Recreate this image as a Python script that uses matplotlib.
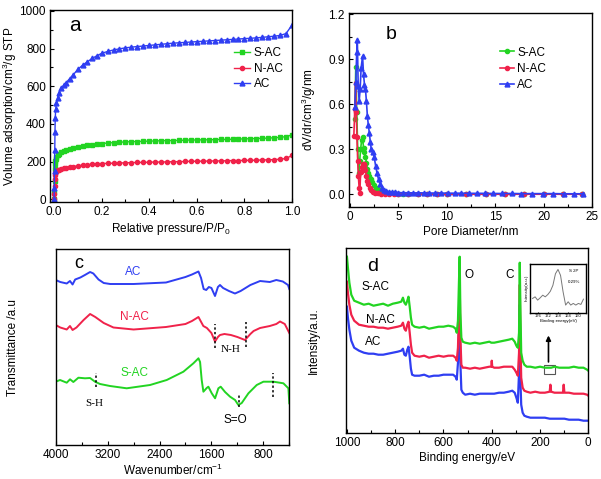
import matplotlib
matplotlib.use("Agg")
import matplotlib.pyplot as plt
from matplotlib.ticker import MultipleLocator

plt.rcParams['font.family'] = ['Liberation Sans', 'DejaVu Sans']
plt.rcParams['mathtext.default'] = 'regular'

GREEN = '#22d422'
RED = '#f0224a'
BLUE = '#2f3ef2'

# ---------------- panel a : isotherms ----------------
pressure = [0.0, 0.001, 0.002, 0.003, 0.004, 0.005, 0.007, 0.01, 0.015, 0.02, 0.03, 0.04, 0.05,
            0.065, 0.08, 0.1, 0.12, 0.14, 0.16, 0.18, 0.2, 0.225, 0.25, 0.275, 0.3, 0.325, 0.35,
            0.375, 0.4, 0.425, 0.45, 0.475, 0.5, 0.525, 0.55, 0.575, 0.6, 0.625, 0.65, 0.675, 0.7,
            0.725, 0.75, 0.775, 0.8, 0.825, 0.85, 0.875, 0.9, 0.925, 0.95, 0.975, 1.0]
ads_ac = [0, 60, 150, 260, 360, 430, 480, 510, 540, 565, 590, 605, 618,
          640, 660, 690, 712, 730, 748, 762, 775, 785, 793, 799, 804, 808, 811,
          814, 817, 820, 823, 826, 829, 831, 833, 835, 837, 839, 841, 843, 845,
          847, 849, 851, 853, 855, 857, 860, 863, 866, 870, 880, 925]
ads_sac = [0, 40, 100, 160, 190, 205, 215, 225, 235, 242, 250, 255, 260,
           265, 270, 277, 282, 287, 290, 293, 296, 299, 301, 303, 305, 306, 307,
           308, 309, 310, 311, 312, 312, 313, 314, 315, 315, 316, 316, 317, 318,
           318, 319, 320, 321, 322, 323, 324, 325, 327, 329, 333, 342]
ads_nac = [0, 30, 70, 110, 130, 140, 146, 150, 155, 158, 162, 165, 167,
           170, 174, 178, 181, 184, 186, 188, 190, 191, 192, 193, 194, 195, 196,
           196, 197, 198, 198, 199, 200, 200, 201, 202, 202, 203, 203, 204, 204,
           205, 206, 206, 207, 207, 208, 209, 210, 211, 213, 217, 233]

# ---------------- panel b : pore size distribution ----------------
ac_d = [0.5, 0.6, 0.7, 0.76, 0.85, 0.95, 1.05, 1.15, 1.3, 1.4, 1.5, 1.6, 1.7, 1.8, 1.9, 2.0,
        2.1, 2.2, 2.35, 2.5, 2.65, 2.8, 2.95, 3.1, 3.3, 3.5, 3.75, 4.0, 4.3, 4.6, 5.0, 5.5,
        6.0, 6.5, 7.0, 7.6, 8.2, 8.8, 9.4, 10.1, 10.8, 11.5, 12.3, 13.1, 13.9, 14.8, 15.7,
        16.7, 17.7, 18.8, 19.9, 21.0, 22.1, 23.1, 24.1]
ac_v = [0.58, 0.75, 0.95, 1.03, 0.72, 0.62, 0.7, 0.84, 0.92, 0.8, 0.73, 0.7, 0.62, 0.52, 0.46, 0.41,
        0.35, 0.30, 0.28, 0.25, 0.19, 0.14, 0.10, 0.07, 0.045, 0.03, 0.022, 0.018, 0.015, 0.013, 0.012, 0.011,
        0.011, 0.01, 0.01, 0.01, 0.009, 0.009, 0.009, 0.008, 0.008, 0.008, 0.007, 0.007, 0.007, 0.006, 0.006,
        0.006, 0.005, 0.005, 0.005, 0.005, 0.004, 0.004, 0.004]
sac_d = [0.5, 0.6, 0.7, 0.8, 0.9, 1.0, 1.1, 1.2, 1.3, 1.4, 1.5, 1.6, 1.7, 1.8, 1.9, 2.0, 2.15,
         2.3, 2.5, 2.7, 2.9, 3.1, 3.4, 3.7, 4.0, 4.5, 5.0, 5.5, 6.0, 7.0, 8.0, 9.0, 10.0, 12.0,
         14.0, 16.0, 18.0, 20.0, 22.0, 24.0]
sac_v = [0.5, 0.85, 0.55, 0.3, 0.14, 0.22, 0.3, 0.36, 0.38, 0.31, 0.28, 0.25, 0.21, 0.17, 0.14, 0.12, 0.1,
         0.08, 0.06, 0.045, 0.033, 0.024, 0.016, 0.011, 0.008, 0.006, 0.005, 0.004, 0.004, 0.003, 0.003, 0.003,
         0.002, 0.002, 0.002, 0.002, 0.002, 0.002, 0.002, 0.002]
nac_d = [0.4, 0.5, 0.58, 0.65, 0.72, 0.8, 0.87, 0.95, 1.02, 1.1, 1.2, 1.3, 1.4, 1.5, 1.6, 1.7,
         1.8, 1.9, 2.05, 2.2, 2.4, 2.6, 2.9, 3.2, 3.6, 4.0, 4.5, 5.0, 6.0, 7.0, 8.0, 9.0, 10.0,
         12.0, 14.0, 16.0, 18.0, 20.0, 22.0, 24.0]
nac_v = [0.39, 0.57, 0.74, 0.55, 0.38, 0.22, 0.12, 0.04, 0.01, 0.15, 0.18, 0.2, 0.2, 0.19, 0.16, 0.12,
         0.09, 0.07, 0.045, 0.03, 0.018, 0.012, 0.008, 0.005, 0.004, 0.003, 0.003, 0.002, 0.002, 0.002, 0.002,
         0.001, 0.001, 0.001, 0.001, 0.001, 0.001, 0.001, 0.001, 0.001]

# ---------------- panel c : FTIR ----------------
ac_wn = [4000, 4000, 3930, 3830, 3780, 3740, 3700, 3620, 3550, 3470, 3420, 3340, 3260, 3160, 2800,
         2300, 2000, 1900, 1800, 1760, 1720, 1680, 1640, 1600, 1545, 1500, 1468, 1420, 1330, 1237,
         1150, 1000, 850, 700, 600, 500, 420, 400]
ac_t = [0, 165, 163, 161.5, 164, 160.5, 165.5, 167.5, 170, 173, 171.5, 165.5, 162, 161, 161,
        162.5, 168, 170.5, 173.5, 167, 156, 155, 158, 157, 149, 158, 160, 157, 154, 151.5,
        154, 160, 164, 163, 165, 163.5, 160, 156]
nac_wn = [4000, 4000, 3930, 3830, 3780, 3740, 3680, 3570, 3470, 3390, 3260, 3110, 2800, 2300, 2000,
          1900, 1800, 1725, 1670, 1600, 1545, 1500, 1468, 1400, 1300, 1200, 1083, 1000, 950, 851,
          700, 600, 543, 470, 400]
nac_t = [0, 120, 117.5, 115.5, 119, 115, 117.5, 125, 131, 128, 122, 117.5, 115.5, 118, 121,
         124, 128, 119, 117, 112, 103.5, 108, 110, 111, 110, 108, 105, 111, 114, 117,
         119, 121, 123.5, 121, 112]
sac_wn = [4000, 4000, 3933, 3830, 3779, 3728, 3650, 3548, 3471, 3394, 3317, 3163, 2906, 2546, 2289,
          2032, 1878, 1800, 1775, 1750, 1724, 1673, 1647, 1595, 1544, 1493, 1457, 1390, 1313, 1236,
          1185, 1133, 1030, 902, 799, 645, 491, 414, 400]
sac_t = [0, 63.3, 65, 62.3, 65.7, 63, 67.3, 66.7, 67, 63.3, 61, 59, 56.7, 60, 65,
         73.3, 81.7, 86.7, 83, 65, 53.3, 57, 58.3, 51.7, 46.7, 56.7, 58.3, 53, 48.3, 45,
         40, 42, 51.7, 60, 63.3, 63.3, 61.7, 56.7, 41.7]

# ---------------- panel d : XPS survey ----------------
be = [1000, 996, 990, 982, 970, 950, 930, 910, 890, 870, 850, 830, 810, 790, 775, 768, 762, 756,
      750, 745, 740, 735, 730, 720, 700, 680, 660, 640, 620, 600, 580, 560, 550, 545, 540, 536,
      533, 530, 526, 520, 510, 490, 470, 450, 430, 410, 402, 400, 398, 390, 370, 350, 330, 315,
      305, 298, 292, 287, 284, 281, 278, 272, 265, 255, 240, 220, 200, 180, 160, 157, 154, 140,
      120, 105, 102, 99, 80, 60, 40, 20, 5, 0]
xps_sac = [176, 165, 150, 138, 132, 130, 128, 129, 127, 128, 129, 127, 129, 130, 131, 135, 130, 128,
           132, 136, 126, 115, 108, 106, 105, 106, 104, 105, 106, 106, 107, 106, 104, 100, 112, 150,
           176, 120, 95, 91, 90, 89, 90, 89, 90, 91, 90, 90, 90, 90, 91, 92, 93, 94,
           91, 87, 85, 100, 170, 120, 80, 72, 68, 66, 66, 65, 66, 65, 65, 65, 65, 66,
           65, 65, 65, 65, 65, 66, 65, 65, 63, 62]
xps_nac = [151, 140, 128, 118, 112, 108, 107, 106, 106, 105, 105, 104, 105, 106, 107, 110, 104, 102,
           108, 111, 100, 88, 80, 77, 76, 77, 75, 76, 77, 76, 77, 77, 75, 72, 85, 120,
           153, 95, 68, 65, 65, 64, 65, 64, 65, 66, 66, 72, 66, 65, 65, 66, 66, 66,
           63, 60, 57, 80, 148, 90, 55, 45, 42, 41, 40, 41, 40, 40, 41, 48, 41, 40,
           40, 40, 48, 40, 40, 39, 39, 39, 38, 37]
xps_ac = [126, 115, 103, 92, 85, 82, 80, 79, 79, 78, 78, 79, 80, 81, 82, 84, 78, 77,
          83, 86, 76, 64, 58, 57, 57, 58, 56, 57, 57, 58, 58, 58, 56, 53, 70, 100,
          122, 70, 43, 40, 38, 39, 38, 39, 39, 39, 39, 39, 39, 39, 40, 40, 41, 42,
          40, 35, 30, 60, 128, 50, 28, 20, 17, 16, 15, 15, 15, 15, 14, 14, 14, 14,
          14, 14, 14, 14, 13, 13, 13, 12, 12, 12]

# inset S2p spectrum
s2p_be = [178, 177, 176, 175, 174, 173, 172, 171, 170, 169, 168, 167, 166, 165, 164, 163, 162,
          161, 160, 159, 158]
s2p_int = [44, 49, 39, 46, 54, 49, 56, 66, 84, 119, 132, 114, 64, 24, 34, 24, 29, 24, 29, 26, 42]

labels = ['S-AC', 'N-AC', 'AC']

W, H = 601, 479
fig = plt.figure(figsize=(W / 100, H / 100), dpi=100)


def ax_px(l, r, t, b):
    return fig.add_axes([l / W, 1 - b / H, (r - l) / W, (b - t) / H])


FS = 8.5


def style(ax):
    ax.tick_params(which='both', direction='in', labelsize=FS, pad=3)
    ax.tick_params(which='major', length=3, width=0.8)
    ax.tick_params(which='minor', length=2, width=0.8)
    for s in ax.spines.values():
        s.set_linewidth(1.0)


def ylabel_at(ax, text, x_px, l, r):
    ax.set_ylabel(text, fontsize=FS)
    ax.yaxis.set_label_coords((x_px - l) / (r - l), 0.5)


# ---- a ----
axa = ax_px(50, 292, 10, 202)
axa.plot(pressure, ads_sac, '-s', color=GREEN, lw=1, ms=3, label=labels[0])
axa.plot(pressure, ads_nac, '-o', color=RED, lw=1, ms=3, label=labels[1])
axa.plot(pressure, ads_ac, '-^', color=BLUE, lw=1, ms=3.5, label=labels[2])
axa.set_xlim(-0.017, 1.0)
axa.set_ylim(-14, 1005)
axa.xaxis.set_minor_locator(MultipleLocator(0.1))
axa.yaxis.set_major_locator(MultipleLocator(200))
axa.yaxis.set_minor_locator(MultipleLocator(100))
axa.set_xticks([0, 0.2, 0.4, 0.6, 0.8, 1.0], ['0.0', '0.2', '0.4', '0.6', '0.8', '1.0'])
style(axa)
axa.set_xlabel('Relative pressure/P/P$_0$', fontsize=FS, labelpad=2)
ylabel_at(axa, 'Volume adsorption/cm$^3$/g STP', 19, 50, 292)
axa.text(0.08, 0.92, 'a', transform=axa.transAxes, fontsize=15, va='center', ha='left')
axa.legend(loc='upper left', bbox_to_anchor=(0.74, 0.83), frameon=False, fontsize=FS,
           handlelength=1.4, handletextpad=0.3, labelspacing=0.3, borderaxespad=0)

# ---- b ----
axb = ax_px(349, 592, 12.7, 207.3)
axb.plot(sac_d, sac_v, '-o', color=GREEN, lw=1.2, ms=3, label=labels[0])
axb.plot(nac_d, nac_v, '-o', color=RED, lw=1.2, ms=3, label=labels[1])
axb.plot(ac_d, ac_v, '-^', color=BLUE, lw=1.2, ms=3.5, label=labels[2])
axb.set_xlim(-0.1, 25)
axb.set_ylim(-0.086, 1.21)
axb.xaxis.set_major_locator(MultipleLocator(5))
axb.xaxis.set_minor_locator(MultipleLocator(2.5))
axb.yaxis.set_minor_locator(MultipleLocator(0.15))
axb.set_yticks([0, 0.3, 0.6, 0.9, 1.2], ['0.0', '0.3', '0.6', '0.9', '1.2'])
style(axb)
axb.set_xlabel('Pore Diameter/nm', fontsize=FS, labelpad=2)
ylabel_at(axb, 'dV/dr/cm$^3$/g/nm', 318, 349, 592)
axb.text(0.15, 0.89, 'b', transform=axb.transAxes, fontsize=14, va='center', ha='left')
axb.legend(loc='upper left', bbox_to_anchor=(0.6, 0.85), frameon=False, fontsize=FS,
           handlelength=1.2, handletextpad=0.3, labelspacing=0.35, borderaxespad=0)

# ---- c ----
axc = ax_px(55.7, 289.3, 249, 445)
axc.plot(ac_wn, ac_t, color=BLUE, lw=1.4)
axc.plot(nac_wn, nac_t, color=RED, lw=1.4)
axc.plot(sac_wn, sac_t, color=GREEN, lw=1.4)
axc.set_xlim(4000, 400)
axc.set_ylim(0, 196)
axc.set_xticks([4000, 3200, 2400, 1600, 800])
axc.xaxis.set_minor_locator(MultipleLocator(400))
axc.set_yticks([])
style(axc)
axc.set_xlabel('Wavenumber/cm$^{-1}$', fontsize=FS, labelpad=1)
ylabel_at(axc, 'Transmittance /a.u', 19, 55.7, 289.3)
axc.text(3640, 181, 'c', fontsize=13, ha='center', va='center')
axc.text(2800, 173, 'AC', color=BLUE, fontsize=FS, ha='center', va='center')
axc.text(2780, 128, 'N-AC', color=RED, fontsize=FS, ha='center', va='center')
axc.text(2780, 72, 'S-AC', color=GREEN, fontsize=FS, ha='center', va='center')
for x0, y0, y1 in [(1545, 97, 121), (1067, 98, 123), (3378, 58, 72), (1170, 38, 51), (655, 48, 72)]:
    axc.plot([x0, x0], [y0, y1], color='black', ls=(0, (1.5, 1.5)), lw=1.1)
axc.text(1310, 95, 'N-H', fontsize=8, ha='center', va='center', family='Liberation Serif')
axc.text(3400, 42, 'S-H', fontsize=8, ha='center', va='center', family='Liberation Serif')
axc.text(1230, 25, 'S=O', fontsize=FS, ha='center', va='center')

# ---- d ----
axd = ax_px(345.5, 588.3, 248.3, 432.7)
axd.plot(be, xps_ac, color=BLUE, lw=1.6)
axd.plot(be, xps_nac, color=RED, lw=1.6)
axd.plot(be, xps_sac, color=GREEN, lw=1.6)
axd.set_xlim(1006, 0)
axd.set_ylim(0, 184.4)
axd.set_xticks([1000, 800, 600, 400, 200, 0])
axd.xaxis.set_minor_locator(MultipleLocator(100))
axd.set_yticks([])
style(axd)
axd.set_xlabel('Binding energy/eV', fontsize=FS, labelpad=2)
ylabel_at(axd, 'Intensity/a.u.', 320, 345.5, 588.3)
axd.text(893, 166, 'd', fontsize=14, ha='center', va='center')
axd.text(880, 146, 'S-AC', fontsize=FS, ha='center', va='center')
axd.text(860, 113, 'N-AC', fontsize=FS, ha='center', va='center')
axd.text(893, 91, 'AC', fontsize=FS, ha='center', va='center')
axd.text(495, 158, 'O', fontsize=FS, ha='center', va='center')
axd.text(325, 158, 'C', fontsize=FS, ha='center', va='center')
axd.add_patch(plt.Rectangle((137, 59), 48, 9, fill=False, ec='#555555', lw=0.8))
axd.annotate('', xy=(165, 100), xytext=(165, 68),
             arrowprops=dict(arrowstyle='-|>', color='black', lw=1.2, mutation_scale=7))

axi = ax_px(530, 586, 263.5, 313)
axi.plot(s2p_be, s2p_int, color='#777777', lw=0.7)
axi.set_xlim(179, 157)
axi.set_ylim(0, 150)
axi.set_xticks([176, 172, 168, 164, 160])
axi.set_yticks([])
axi.tick_params(labelsize=3, length=1, pad=1, direction='in')
for s in axi.spines.values():
    s.set_linewidth(1.0)
axi.set_xlabel('Binding energy(eV)', fontsize=3.2, labelpad=0.5)
axi.set_ylabel('Intensity(a.u.)', fontsize=3.2, labelpad=1)
axi.text(0.78, 0.82, 'S 2P', transform=axi.transAxes, fontsize=3.2, ha='center')
axi.text(0.78, 0.6, '0.29%', transform=axi.transAxes, fontsize=3.2, ha='center')

fig.savefig('out.png', dpi=100)
